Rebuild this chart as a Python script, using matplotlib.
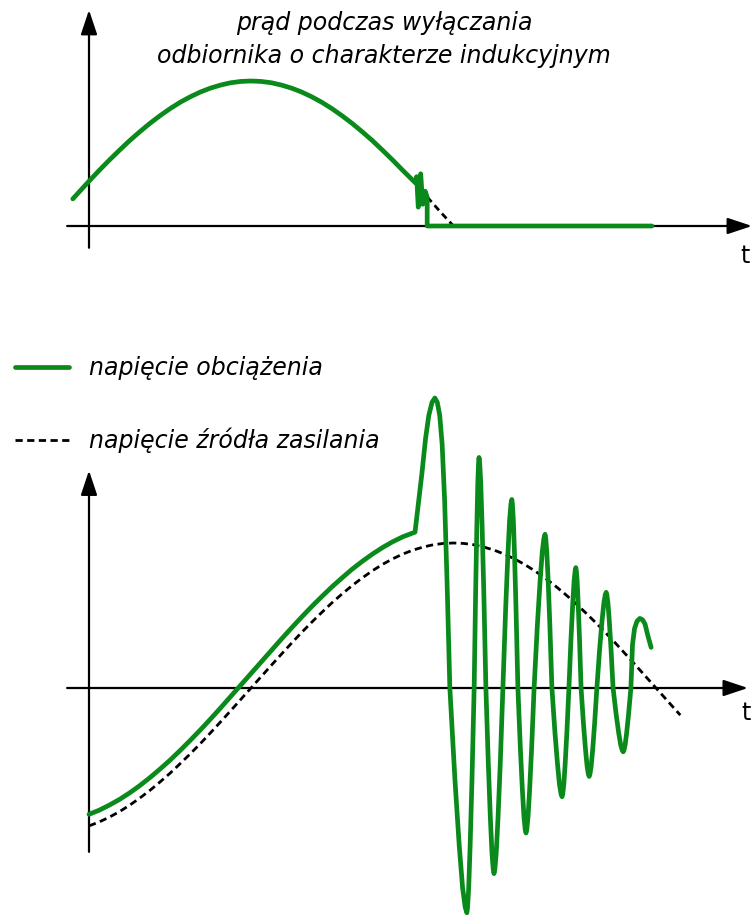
import matplotlib.pyplot as plt

# time in ms (50 Hz mains), amplitudes in per-unit of the peak value

# load current while switching off an inductive load
cur_t = [-0.40, -0.25, 0.0, 0.25, 0.5, 0.75, 1.0, 1.25, 1.5, 1.75, 2.0, 2.25, 2.5, 2.75,
         3.0, 3.25, 3.5, 3.75, 4.0, 4.25, 4.5, 4.75, 5.0, 5.25, 5.5, 5.75, 6.0, 6.25,
         6.5, 6.75, 7.0, 7.25, 7.5, 7.75, 8.05,
         8.09, 8.13, 8.19, 8.24, 8.30, 8.35, 8.35, 13.9]
cur_i = [0.187, 0.233, 0.309, 0.383, 0.454, 0.522, 0.588, 0.649, 0.707, 0.760, 0.809, 0.853,
         0.891, 0.924, 0.951, 0.972, 0.988, 0.997, 1.000, 0.997, 0.988, 0.972, 0.951, 0.924,
         0.891, 0.853, 0.809, 0.760, 0.707, 0.649, 0.588, 0.522, 0.454, 0.383, 0.300,
         0.34, 0.13, 0.36, 0.15, 0.24, 0.20, 0.0, 0.0]
# undisturbed current after the switch opens
cur_cont_t = [8.35, 8.70, 9.00]
cur_cont_i = [0.20, 0.09, 0.00]

# supply voltage
src_t = [0.0, 0.25, 0.5, 0.75, 1.0, 1.25, 1.5, 1.75, 2.0, 2.25, 2.5, 2.75, 3.0, 3.25, 3.5,
         3.75, 4.0, 4.25, 4.5, 4.75, 5.0, 5.25, 5.5, 5.75, 6.0, 6.25, 6.5, 6.75, 7.0, 7.25,
         7.5, 7.75, 8.0, 8.25, 8.5, 8.75, 9.0, 9.25, 9.5, 9.75, 10.0, 10.25, 10.5, 10.75,
         11.0, 11.25, 11.5, 11.75, 12.0, 12.25, 12.5, 12.75, 13.0, 13.25, 13.5, 13.75,
         14.0, 14.25, 14.5, 14.6]
src_u = [-0.951, -0.924, -0.891, -0.853, -0.809, -0.760, -0.707, -0.649, -0.588, -0.522,
         -0.454, -0.383, -0.309, -0.233, -0.156, -0.078, 0.000, 0.078, 0.156, 0.233, 0.309,
         0.383, 0.454, 0.522, 0.588, 0.649, 0.707, 0.760, 0.809, 0.853, 0.891, 0.924, 0.951,
         0.972, 0.988, 0.997, 1.000, 0.997, 0.988, 0.972, 0.951, 0.924, 0.891, 0.853, 0.809,
         0.760, 0.707, 0.649, 0.588, 0.522, 0.454, 0.383, 0.309, 0.233, 0.156, 0.078, 0.000,
         -0.078, -0.156, -0.187]

# voltage across the load, with ringing after switch-off
load_t = [0.0, 0.25, 0.5, 0.75, 1.0, 1.25, 1.5, 1.75, 2.0, 2.25, 2.5, 2.75, 3.0, 3.25, 3.5,
          3.75, 4.0, 4.25, 4.5, 4.75, 5.0, 5.25, 5.5, 5.75, 6.0, 6.25, 6.5, 6.75, 7.0, 7.25,
          7.5, 7.75, 8.05,
          8.12, 8.22, 8.31, 8.39, 8.47, 8.54, 8.60, 8.66, 8.72, 8.78, 8.84, 8.91,
          9.036, 9.141, 9.225, 9.288, 9.33, 9.348, 9.375, 9.411, 9.456, 9.51,
          9.546, 9.576, 9.600, 9.618, 9.63, 9.647, 9.673, 9.707, 9.749, 9.80,
          9.86, 9.91, 9.95, 9.98, 10.00, 10.022, 10.055, 10.099, 10.154, 10.22,
          10.286, 10.341, 10.385, 10.418, 10.44, 10.455, 10.478, 10.508, 10.545, 10.59,
          10.65, 10.70, 10.74, 10.77, 10.79, 10.81, 10.84, 10.88, 10.93, 10.99,
          11.071, 11.139, 11.193, 11.233, 11.26, 11.277, 11.303, 11.337, 11.379, 11.43,
          11.505, 11.568, 11.618, 11.655, 11.68, 11.697, 11.723, 11.757, 11.799, 11.85,
          11.901, 11.944, 11.978, 12.003, 12.02, 12.033, 12.053, 12.079, 12.111, 12.15,
          12.21, 12.26, 12.30, 12.33, 12.35, 12.369, 12.398, 12.436, 12.483, 12.54,
          12.609, 12.667, 12.713, 12.747, 12.77, 12.787, 12.813, 12.847, 12.889, 12.94,
          13.015, 13.078, 13.128, 13.165, 13.19, 13.209, 13.238, 13.276, 13.323, 13.38,
          13.42, 13.47, 13.53, 13.60, 13.67, 13.73, 13.80, 13.88]
load_u = [-0.871, -0.843, -0.808, -0.769, -0.724, -0.674, -0.619, -0.560, -0.498, -0.431,
          -0.361, -0.289, -0.214, -0.137, -0.058, 0.021, 0.100, 0.179, 0.259, 0.337, 0.414,
          0.489, 0.562, 0.631, 0.698, 0.760, 0.820, 0.874, 0.924, 0.969, 1.009, 1.043, 1.075,
          1.24, 1.48, 1.72, 1.88, 1.97, 2.00, 1.97, 1.88, 1.68, 1.30, 0.74, 0.0,
          -0.636, -1.085, -1.380, -1.511, -1.55, -1.511, -1.380, -1.085, -0.636, 0.0,
          0.652, 1.113, 1.415, 1.550, 1.59, 1.550, 1.415, 1.113, 0.652, 0.0,
          -0.525, -0.896, -1.139, -1.248, -1.28, -1.248, -1.139, -0.896, -0.525, 0.0,
          0.533, 0.910, 1.157, 1.268, 1.30, 1.268, 1.157, 0.910, 0.533, 0.0,
          -0.41, -0.70, -0.89, -0.975, -1.00, -0.975, -0.89, -0.70, -0.41, 0.0,
          0.435, 0.742, 0.943, 1.034, 1.06, 1.034, 0.943, 0.742, 0.435, 0.0,
          -0.308, -0.525, -0.668, -0.731, -0.75, -0.731, -0.668, -0.525, -0.308, 0.0,
          0.340, 0.581, 0.739, 0.809, 0.83, 0.809, 0.739, 0.581, 0.340, 0.0,
          -0.250, -0.427, -0.543, -0.595, -0.61, -0.595, -0.543, -0.427, -0.250, 0.0,
          0.271, 0.462, 0.587, 0.644, 0.66, 0.644, 0.587, 0.462, 0.271, 0.0,
          -0.180, -0.308, -0.392, -0.429, -0.44, -0.429, -0.392, -0.308, -0.180, 0.0,
          0.30, 0.41, 0.46, 0.48, 0.47, 0.44, 0.36, 0.28]

title = 'prąd podczas wyłączania\nodbiornika o charakterze indukcyjnym'
labels = ['napięcie obciążenia', 'napięcie źródła zasilania']
time_label = 't'

GREEN = '#0b8a1c'
W, H = 753, 916
PX_PER_MS = 40.5
PX_PER_PU = 145.0
X0 = 89

plt.rcParams['font.family'] = ['DejaVu Sans']


def make_axes(fig, top_px, bottom_px, zero_px):
    ax = fig.add_axes([0, 1 - bottom_px / H, 1, (bottom_px - top_px) / H])
    ax.set_xlim(-X0 / PX_PER_MS, (W - X0) / PX_PER_MS)
    ax.set_ylim((zero_px - bottom_px) / PX_PER_PU, (zero_px - top_px) / PX_PER_PU)
    ax.axis('off')
    return ax


def draw_arrows(ax, x_from, x_to, y_from, y_to):
    style = dict(arrowstyle='-|>,head_length=0.75,head_width=0.25', color='black',
                 lw=1.6, mutation_scale=20, shrinkA=0, shrinkB=0)
    ax.annotate('', xy=(x_to, 0), xytext=(x_from, 0), arrowprops=style)
    ax.annotate('', xy=(0, y_to), xytext=(0, y_from), arrowprops=style)


fig = plt.figure(figsize=(W / 100, H / 100), dpi=100)
fig.patch.set_facecolor('white')

# current
ax1 = make_axes(fig, 0, 300, 226)
draw_arrows(ax1, -0.54, 16.37, -0.15, 1.49)
ax1.plot(cur_cont_t, cur_cont_i, color='black', lw=2.0, dashes=(2.4, 1.6), zorder=2)
ax1.plot(cur_t, cur_i, color=GREEN, lw=3.4, solid_joinstyle='round',
         solid_capstyle='round', zorder=3)
ax1.text(7.28, 1.285, title, ha='center', va='center', fontsize=17, style='italic',
         linespacing=1.45)
ax1.text(16.2, -0.21, time_label, ha='center', va='center', fontsize=17)

# voltages
ax2 = make_axes(fig, 300, 916, 688)
draw_arrows(ax2, -0.54, 16.27, -1.13, 1.50)
src_line, = ax2.plot(src_t, src_u, color='black', lw=2.0, dashes=(2.6, 1.6), zorder=2)
load_line, = ax2.plot(load_t, load_u, color=GREEN, lw=3.4, solid_joinstyle='round',
                      solid_capstyle='round', zorder=3)
ax2.text(16.22, -0.17, time_label, ha='center', va='center', fontsize=17)

ax2.legend([load_line, src_line], labels, loc='upper left',
           bbox_to_anchor=(15 / W, 1 - 356 / H), bbox_transform=fig.transFigure,
           frameon=False, handlelength=2.3, handletextpad=0.85, labelspacing=2.03,
           borderpad=0, borderaxespad=0, prop={'style': 'italic', 'size': 17})

fig.savefig('out.png', dpi=100)
